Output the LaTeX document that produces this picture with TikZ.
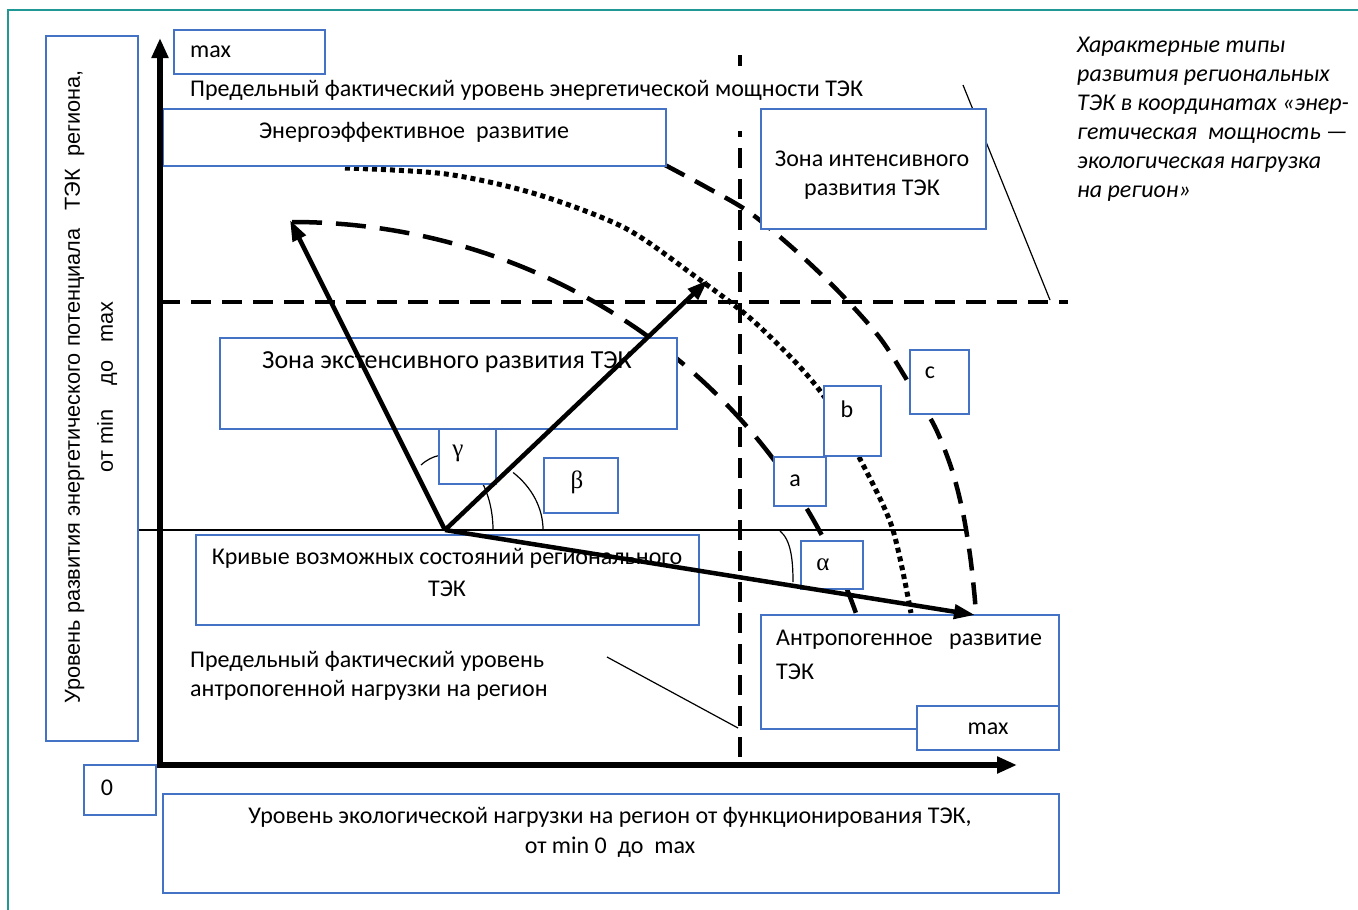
\documentclass[tikz,border=0pt]{standalone}
\usepackage{fontspec}
\setmainfont{Carlito}
\newfontfamily\arialfam{Liberation Sans}
\newfontfamily\timesfam{Liberation Serif}
\usetikzlibrary{arrows.meta}
\definecolor{boxblue}{RGB}{68,114,196}
\definecolor{frameteal}{RGB}{32,152,150}
\newcommand\fmain{\fontsize{24}{29}\selectfont}
\newcommand\fnote{\itshape\fontsize{24}{29}\selectfont}
\newcommand\fylab{\arialfam\fontsize{21.7}{33}\selectfont}
\newcommand\fgreek{\timesfam\fontsize{25}{29}\selectfont}
\begin{document}
\begin{tikzpicture}[x=1pt,y=1pt,
 box/.style={draw=boxblue,line width=1.7pt,fill=white,inner sep=0pt,anchor=north west},
 txt/.style={inner sep=0pt,font=\fmain,text=black},
 greek/.style={inner sep=0pt,font=\fgreek,text=black},
 vecarrow/.style={line width=4.5pt,-{Triangle[length=21pt,width=14pt]}},
 axisarrow/.style={line width=5.5pt,-{Triangle[length=20pt,width=16pt]}},
 guide/.style={line width=4.5pt,dash pattern=on 20pt off 11pt},
 curvea/.style={line width=4.5pt,dash pattern=on 30pt off 14pt},
 curveb/.style={line width=5pt,dash pattern=on 5pt off 4pt},
 curvec/.style={line width=4.5pt,dash pattern=on 22pt off 12pt},
 thinline/.style={line width=1.2pt},
]
\useasboundingbox (0,0) rectangle (1358,-910);
\fill[white] (0,0) rectangle (1358,-910);
\draw[frameteal,line width=2pt] (8,-910) -- (8,-10) -- (1358,-10);

% key points
\coordinate (O) at (445,-530);
\coordinate (Tg) at (290,-220);
\coordinate (Tb) at (708,-280);
\coordinate (Ta) at (975,-615);

% guide lines
\coordinate (hg1) at (160,-302); \coordinate (hg2) at (1068,-302);
\draw[guide] (hg1) -- (hg2);
\coordinate (vg1) at (740,-55); \coordinate (vg2) at (740,-765);
\draw[guide] (vg1) -- (vg2);

% pointer lines
\coordinate (p1a) at (963,-85); \coordinate (p1b) at (1050,-300);
\draw[thinline] (p1a) -- (p1b);
\coordinate (p2a) at (607,-657); \coordinate (p2b) at (738,-728);
\draw[thinline] (p2a) -- (p2b);

% horizontal base line
\coordinate (hl1) at (138,-530); \coordinate (hl2) at (968,-530);
\draw[thinline] (hl1) -- (hl2);

% curves of possible states
\draw[curvea] (292,-222) arc[start angle=90,end angle=18.9,x radius=596pt,y radius=578pt];
\draw[curveb] plot[smooth] coordinates {(345,-168) (446,-174) (536,-194) (625,-228) (696,-277) (750,-318) (800,-367) (830,-405) (859,-457) (892,-527) (911,-613)};
\draw[curvec] plot[smooth] coordinates {(665,-165) (706,-187) (749,-212) (795,-250) (840,-293) (880,-338) (910,-385) (935,-427) (952,-470) (963,-513) (970,-555) (974,-590) (976,-613)};

% angle arcs
\draw[thinline] (421,-465) arc[start angle=120,end angle=0,x radius=48pt,y radius=75pt];
\draw[thinline] (513.1,-472.5) arc[start angle=46,end angle=0,x radius=98pt,y radius=80pt];
\draw[thinline] (780,-531) .. controls (791,-540) and (793,-560) .. (793,-582);

% text cover for upper limit label
\fill[white] (185,-66) rectangle (860,-131);
\node[txt,anchor=west] (limE) at (190,-90) {Предельный фактический уровень энергетической мощности ТЭК};

% boxes
\node[box,minimum width=92pt,minimum height=705pt] (ylab) at (45,-35) {};
\node[font=\fylab,inner sep=0pt,rotate=90,align=center] (ylabt) at (91,-387) {Уровень развития энергетического потенциала\ \ \ ТЭК\ \ региона,\\от min\ \ \ \ до\ \ \ max};

\node[box,minimum width=151pt,minimum height=44pt] (maxtop) at (173,-29) {};
\node[txt,anchor=west] (maxtopt) at (190,-52) {max};

\node[box,minimum width=503pt,minimum height=57pt] (energo) at (162,-108) {};
\node[txt] (energot) at (414,-132) {Энергоэффективное\ \ развитие};

\node[box,minimum width=225pt,minimum height=120pt] (intens) at (760,-108) {};
\node[txt,align=center] (intenst) at (872,-175) {Зона интенсивного\\развития ТЭК};

\node[box,minimum width=457pt,minimum height=91pt] (extens) at (219,-337) {};
\node[txt,font=\fontsize{26}{30}\selectfont] (extenst) at (447,-362) {Зона экстенсивного развития ТЭК};

\node[box,minimum width=57pt,minimum height=55pt] (gbox) at (438,-428) {};
\node[greek] (gt) at (458,-453) {γ};

\node[box,minimum width=74pt,minimum height=55pt] (bbox) at (543,-457) {};
\node[greek] (bt) at (577,-482) {β};

\node[box,minimum width=503pt,minimum height=90pt] (curves) at (195,-534) {};
\node[txt,align=center,font=\fontsize{24}{32}\selectfont] (curvest) at (447,-572) {Кривые возможных состояний регионального\\ТЭК};

\node[box,minimum width=52pt,minimum height=49pt] (abox) at (773,-456) {};
\node[txt] (at) at (795,-481) {a};

\node[box,minimum width=57pt,minimum height=70pt] (bcbox) at (823,-385) {};
\node[txt] (bct) at (847,-409) {b};

\node[box,minimum width=59pt,minimum height=64pt] (cbox) at (909,-349) {};
\node[txt] (ct) at (930,-373) {c};

\node[box,minimum width=62pt,minimum height=48pt] (albox) at (800,-540) {};
\node[greek] (alt) at (823,-565) {α};

\node[box,minimum width=298pt,minimum height=114pt] (antro) at (760,-614) {};
\node[txt,anchor=west,align=left,font=\fontsize{24}{34}\selectfont] (antrot) at (776,-655) {Антропогенное\ \ \ развитие\\ТЭК};

\node[box,minimum width=142pt,minimum height=44pt] (maxr) at (916,-705) {};
\node[txt] (maxrt) at (988,-729) {max};

\node[txt,anchor=west,align=left] (limA) at (190,-676) {Предельный фактический уровень\\антропогенной нагрузки на регион};

\node[box,minimum width=72pt,minimum height=50pt] (zero) at (83,-764) {};
\node[txt] (zerot) at (107,-788) {0};

\node[box,minimum width=896pt,minimum height=99pt] (xlab) at (162,-793) {};
\node[txt,align=center,font=\fontsize{24}{30}\selectfont] (xlabt) at (610,-832) {Уровень экологической нагрузки на регион от функционирования ТЭК,\\от min 0\ \ до\ \ max};

\node[anchor=west,align=left,inner sep=0pt,font=\fnote] (note) at (1077,-119) {Характерные типы\\развития региональных\\ТЭК в координатах «энер-\\гетическая\ \ мощность —\\экологическая нагрузка\\на регион»};

% vectors
\draw[vecarrow] (O) -- (Tg);
\draw[vecarrow] (O) -- (Tb);
\draw[vecarrow] (O) -- (Ta);

% axes
\coordinate (Oc) at (160,-765);
\coordinate (Ytip) at (160,-38);
\coordinate (Xtip) at (1017,-765);
\draw[axisarrow] ([yshift=-2.75pt]Oc) -- (Ytip);
\draw[axisarrow] ([xshift=-2.75pt]Oc) -- (Xtip);
\end{tikzpicture}
\end{document}
